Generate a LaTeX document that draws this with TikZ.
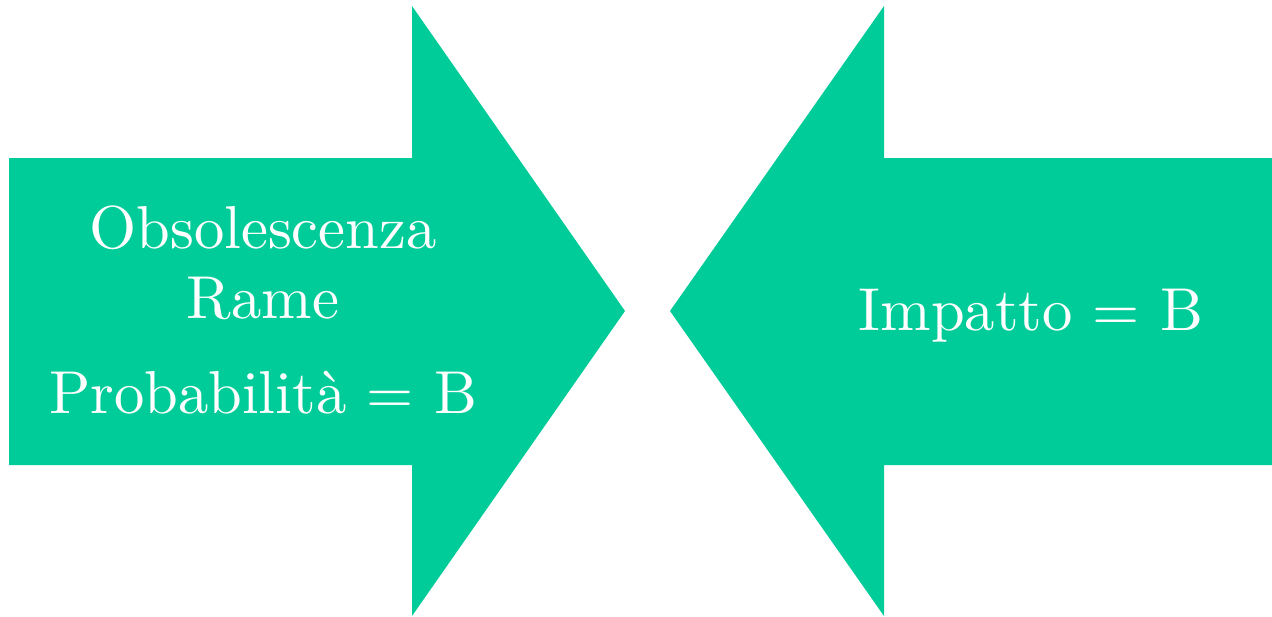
\documentclass[tikz,border=0pt]{standalone}
\usepackage{tikz}
\usetikzlibrary{positioning}
\definecolor{riskgreen}{RGB}{0,204,153}
\tikzset{
  bigarrow/.style ={fill=riskgreen, draw=none},
  lbl/.style      ={text=white, font=\fontsize{10}{12}\selectfont, scale=3.45,
                    inner sep=0pt, anchor=base},
}

\begin{document}
\begin{tikzpicture}[x=0.02cm, y=-0.02cm]
  \useasboundingbox (0,0) rectangle (1272,616);

  % arrow from the left
  \fill[bigarrow] (9,158) -- (412,158) -- (412,6) -- (625,311)
                  -- (412,616) -- (412,465) -- (9,465) -- cycle;
  % arrow from the right
  \fill[bigarrow] (1272,158) -- (884,158) -- (884,6) -- (670,311)
                  -- (884,616) -- (884,465) -- (1272,465) -- cycle;

  \node[lbl] (obs)  at (263,248) {Obsolescenza};
  \node[lbl] (rame) at (263,318) {Rame};
  \node[lbl] (prob) at (263,413) {Probabilità = B};
  \node[lbl] (imp)  at (1031,330) {Impatto = B};
\end{tikzpicture}
\end{document}
